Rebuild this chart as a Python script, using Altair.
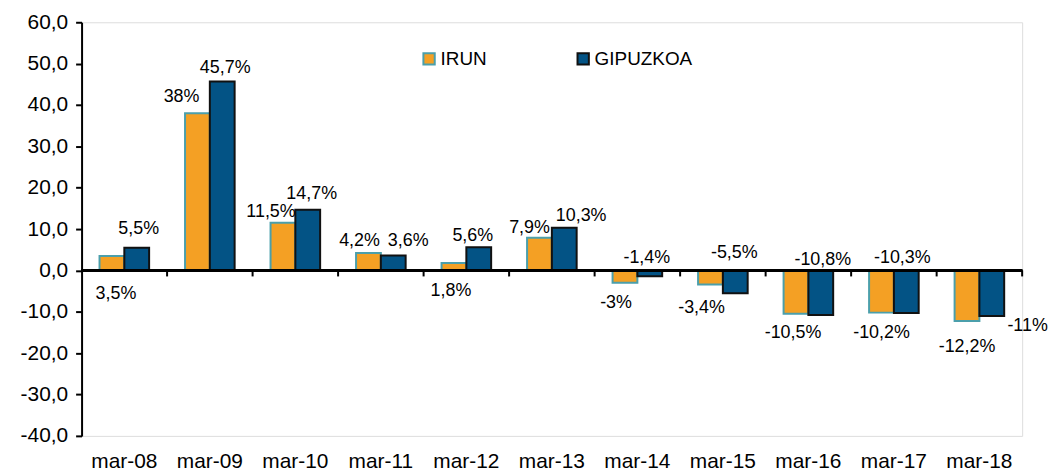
import altair as alt
import pandas as pd

categories = ["mar-08", "mar-09", "mar-10", "mar-11", "mar-12", "mar-13",
              "mar-14", "mar-15", "mar-16", "mar-17", "mar-18"]
series = ["IRUN", "GIPUZKOA"]
irun = [3.5, 38, 11.5, 4.2, 1.8, 7.9, -3, -3.4, -10.5, -10.2, -12.2]
gipuzkoa = [5.5, 45.7, 14.7, 3.6, 5.6, 10.3, -1.4, -5.5, -10.8, -10.3, -11]
# data-label placement:
# vertical anchor in axis units, horizontal nudge from the bar centre
irun_label_at = [-5.8, 42, 14.2, 7.0, -5.0, 10.3, -7.9, -9.1, -15.2, -15.2, -18.5]
gip_label_at = [10.1, 49, 18.5, 7.0, 8.4, 13.2, 3.1, 4.1, 2.6, 3.1, -13.5]
irun_label_nudge = [4, -16, -12, -9, -3, -10, -9, -9, -3, 0, 0]
gip_label_nudge = [2, 3, 4, 15, -6, 17, -3, -1, 2, -4, 36]


def fmt(v):
    return f"{v:g}".replace(".", ",") + "%"


rows = []
for i, c in enumerate(categories):
    rows.append({"cat": c, "series": "IRUN", "value": irun[i], "label": fmt(irun[i]),
                 "ly": irun_label_at[i], "ldx": irun_label_nudge[i]})
    rows.append({"cat": c, "series": "GIPUZKOA", "value": gipuzkoa[i], "label": fmt(gipuzkoa[i]),
                 "ly": gip_label_at[i], "ldx": gip_label_nudge[i]})
df = pd.DataFrame(rows)
cats_df = pd.DataFrame({"cat": categories})

FONT = "Liberation Sans"
W, H = 946, 416
y_scale = alt.Scale(domain=[-40, 60], nice=False, zero=False)
x_scale = alt.Scale(paddingInner=0.42, paddingOuter=0.21)
fill_scale = alt.Scale(domain=series, range=["#F4A024", "#035385"])
stroke_scale = alt.Scale(domain=series, range=["#4B9FAB", "#111111"])
x_enc = alt.X("cat:N", sort=categories, scale=x_scale, title=None,
              axis=alt.Axis(orient="bottom", labels=True, domain=False, ticks=False,
                            labelFont=FONT, labelFontSize=21, labelColor="#000",
                            labelPadding=15, labelAngle=0, grid=False))

bars = alt.Chart(df).mark_bar(strokeWidth=2).encode(
    x=x_enc,
    xOffset=alt.XOffset("series:N", sort=series,
                        scale=alt.Scale(paddingInner=0, paddingOuter=0)),
    y=alt.Y("value:Q", scale=y_scale, title=None,
            axis=alt.Axis(values=list(range(-40, 61, 10)),
                          labelExpr="(datum.value < 0 ? '-' : '') + replace(format(abs(datum.value), '.1f'), '.', ',')",
                          labelFont=FONT, labelFontSize=21, labelColor="#000",
                          labelPadding=8, domainColor="#000", domainWidth=2,
                          tickColor="#000", tickWidth=2, tickSize=6, grid=False)),
    fill=alt.Fill("series:N", scale=fill_scale, sort=series,
                  legend=alt.Legend(title=None, orient="none", legendX=340, legendY=27,
                                    direction="horizontal", symbolType="square",
                                    symbolSize=130, symbolStrokeWidth=2,
                                    labelFont=FONT, labelFontSize=19, labelColor="#000",
                                    labelOffset=2, columnPadding=86, padding=0)),
    stroke=alt.Stroke("series:N", scale=stroke_scale, sort=series, legend=alt.Legend(title=None)),
)

# zero line (the category axis line)
zero_line = alt.Chart(cats_df).mark_rule(color="#000", strokeWidth=2).encode(
    y=alt.datum(0)
)

labels = alt.Chart(df).mark_text(
    font=FONT, fontSize=18, color="#000", baseline="middle", align="center",
    dx=alt.expr("datum.ldx"),
).encode(
    x=x_enc,
    xOffset=alt.XOffset("series:N", sort=series,
                        scale=alt.Scale(paddingInner=0, paddingOuter=0)),
    y=alt.Y("ly:Q", scale=y_scale),
    text="label:N",
)

main = alt.layer(bars, zero_line, labels)

# category separator ticks below the zero line, at the category boundaries
sep_ticks = alt.Chart(cats_df).mark_rule(color="#000", strokeWidth=2).encode(
    x=alt.X("cat:N", sort=categories, bandPosition=1, axis=None,
            scale=alt.Scale(paddingInner=0, paddingOuter=0)),
    y=alt.datum(0, scale=y_scale),
    y2=alt.datum(-1.45),
)

chart = alt.layer(main, sep_ticks).resolve_scale(x="independent").properties(
    width=W, height=H, padding={"left": 12, "top": 2, "right": 0, "bottom": 2}
).configure_view(stroke="transparent", strokeWidth=0).configure(background="white")

chart.save("out.html", embed_options={"renderer": "svg", "actions": False})
